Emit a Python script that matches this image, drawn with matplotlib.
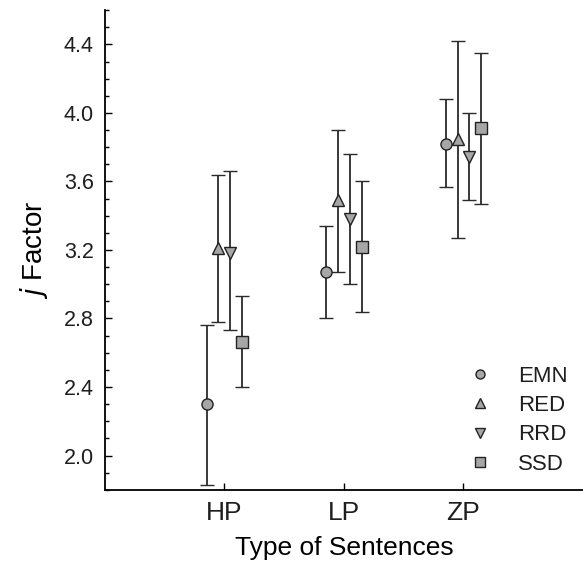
import matplotlib.pyplot as plt
from matplotlib.lines import Line2D

plt.rcParams['font.family'] = ['Liberation Sans', 'DejaVu Sans']
plt.rcParams['text.color'] = '#1e1e1e'

groups = ["HP", "LP", "ZP"]
series = ["EMN", "RED", "RRD", "SSD"]
markers = ["o", "^", "v", "s"]
offsets = [-0.15, -0.05, 0.05, 0.15]

# mean, lower end, upper end of each bar (HP, LP, ZP)
means = {
  "EMN": [2.30, 3.07, 3.82],
  "RED": [3.21, 3.49, 3.85],
  "RRD": [3.18, 3.38, 3.74],
  "SSD": [2.66, 3.22, 3.91],
}
lows = {
  "EMN": [1.83, 2.80, 3.57],
  "RED": [2.78, 3.07, 3.27],
  "RRD": [2.73, 3.00, 3.49],
  "SSD": [2.40, 2.84, 3.47],
}
highs = {
  "EMN": [2.76, 3.34, 4.08],
  "RED": [3.64, 3.90, 4.42],
  "RRD": [3.66, 3.76, 4.00],
  "SSD": [2.93, 3.60, 4.35],
}

fig = plt.figure(figsize=(5.83, 5.63), dpi=100)
ax = fig.add_axes([0.18, 0.13, 0.82, 0.852])

handles = []
for s, m, off in zip(series, markers, offsets):
  x = [i + 1 + off for i in range(len(groups))]
  y = means[s]
  err = [[a - b for a, b in zip(y, lows[s])], [b - a for a, b in zip(y, highs[s])]]
  ax.errorbar(x, y, yerr=err, fmt=m, ms=8, mfc="#a6a6a6", mec="#222222", mew=1.0,
              ecolor="#2a2a2a", elinewidth=1.3, capsize=5, capthick=1.3)
  handles.append(Line2D([], [], ls="none", marker=m, ms=6.5, mfc="#a6a6a6",
                        mec="#222222", mew=1.0, label=s))

ax.set_xlim(0, 4)
ax.set_ylim(1.8, 4.6)
ax.set_xticks([1, 2, 3])
ax.set_xticklabels(groups, fontsize=19)
ax.set_yticks([2.0, 2.4, 2.8, 3.2, 3.6, 4.0, 4.4])
ax.set_yticks([1.8 + 0.1 * i for i in range(29)], minor=True)
ax.tick_params(axis="y", direction="in", length=5, width=1, labelsize=15.5, pad=8,
               labelcolor="#1e1e1e")
ax.tick_params(axis="y", which="minor", direction="in", length=3, width=1)
ax.tick_params(axis="x", direction="in", length=5, width=1, pad=8, labelcolor="#1e1e1e")
for sp in ["top", "right"]:
  ax.spines[sp].set_visible(False)
for sp in ["left", "bottom"]:
  ax.spines[sp].set_linewidth(1.3)

ax.set_xlabel("Type of Sentences", fontsize=19, labelpad=8)
ax.set_ylabel("$\\it{j}$ Factor", fontsize=20, labelpad=10)

ax.legend(handles=handles, loc="lower right", bbox_to_anchor=(0.973, 0.157),
          bbox_transform=fig.transFigure, frameon=False, fontsize=16,
          handlelength=1.0, handletextpad=1.2, labelspacing=0.37, borderpad=0,
          borderaxespad=0)

fig.savefig("out.png", dpi=100)
